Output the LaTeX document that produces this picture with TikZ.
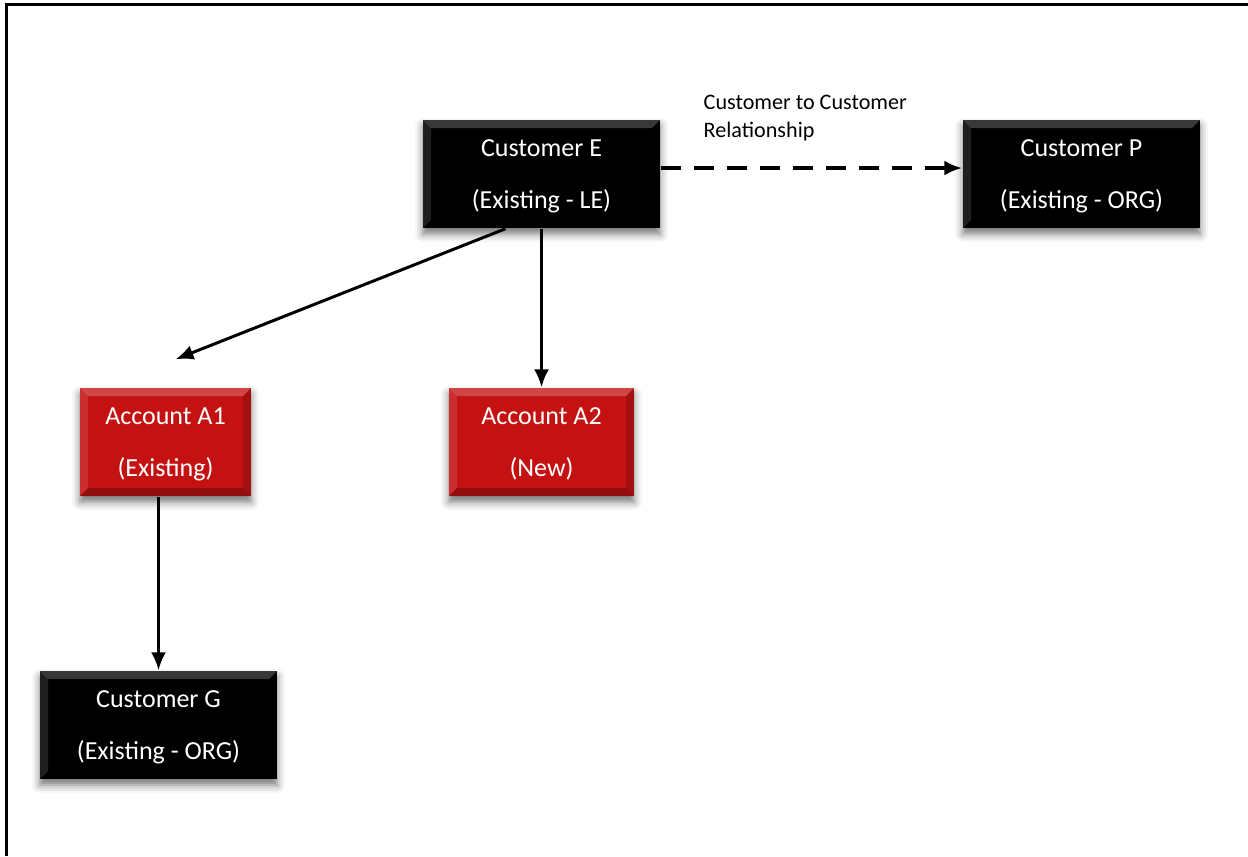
\documentclass[tikz,border=0pt]{standalone}
\usepackage{fontspec}
\setmainfont{Carlito}
\usetikzlibrary{arrows.meta,shadows.blur}
\definecolor{acctred}{RGB}{196,18,18}

\tikzset{
  bevel/.style={path picture={
    \fill[-, white, opacity=0.22] (path picture bounding box.north west) -- (path picture bounding box.north east)
      -- ([shift={(-0.08,-0.08)}]path picture bounding box.north east) -- ([shift={(0.08,-0.08)}]path picture bounding box.north west) -- cycle;
    \fill[-, white, opacity=0.12] (path picture bounding box.north west) -- ([shift={(0.08,-0.08)}]path picture bounding box.north west)
      -- ([shift={(0.08,0.08)}]path picture bounding box.south west) -- (path picture bounding box.south west) -- cycle;
    \fill[-, black, opacity=0.25] (path picture bounding box.south west) -- (path picture bounding box.south east)
      -- ([shift={(-0.08,0.08)}]path picture bounding box.south east) -- ([shift={(0.08,0.08)}]path picture bounding box.south west) -- cycle;
    \fill[-, black, opacity=0.15] (path picture bounding box.north east) -- ([shift={(-0.08,-0.08)}]path picture bounding box.north east)
      -- ([shift={(-0.08,0.08)}]path picture bounding box.south east) -- (path picture bounding box.south east) -- cycle;
  }}
}

\begin{document}
\begin{tikzpicture}[->, >={Latex[length=1.8mm,width=1.5mm]}, node distance=2cm,
    cust node/.style={rectangle, fill=black, text=white, minimum width=2.37cm, minimum height=1.08cm,
      align=center, font=\fontsize{7.4}{14.8}\selectfont, bevel, text depth=-0.5mm,
      blur shadow={shadow xshift=0mm, shadow yshift=-0.6mm, shadow blur radius=0.8mm, shadow opacity=55}},
    acct node/.style={cust node, fill=acctred}]
        \tikzstyle{every node}=[font=\small]
        \useasboundingbox (0,0) rectangle (12.48,-8.56);
        % frame
        \draw[-, line width=1pt] (0.065,-8.56) -- (0.065,-0.045) -- (12.48,-0.045);

          \node[cust node] (e) at (5.415,-1.74) {Customer E\\(Existing - LE)};
          \node[cust node, node distance=5.4cm] (p) [right of=e] {Customer P\\(Existing - ORG)};
          \node[acct node, minimum width=1.85cm, node distance=2.68cm] (a2) [below of=e] {Account A2\\(New)};
          \node[acct node, minimum width=1.71cm, node distance=3.76cm] (a1) [left of=a2] {Account A1\\(Existing)};
          \node[cust node, node distance=2.83cm, xshift=-0.07cm] (g) [below of=a1] {Customer G\\(Existing - ORG)};

          \node[anchor=north west, align=left, inner sep=0pt, font=\fontsize{6.3}{8}\selectfont] (rel) at (7.03,-0.94)
            {Customer to Customer\\Relationship};
          \coordinate (a1tip) at ([shift={(0.1,0.28)}]a1.north);

          \path[line width=0.85pt]
            ([yshift=0.06cm]e.east) edge[line width=1.1pt, dash pattern=on 0.2cm off 0.13cm] ([yshift=0.06cm]p.west)
            ([xshift=-0.36cm]e.south) edge (a1tip)
            (e.south) edge (a2.north)
            (g.north |- a1.south) edge (g.north);

        \end{tikzpicture}
\end{document}
